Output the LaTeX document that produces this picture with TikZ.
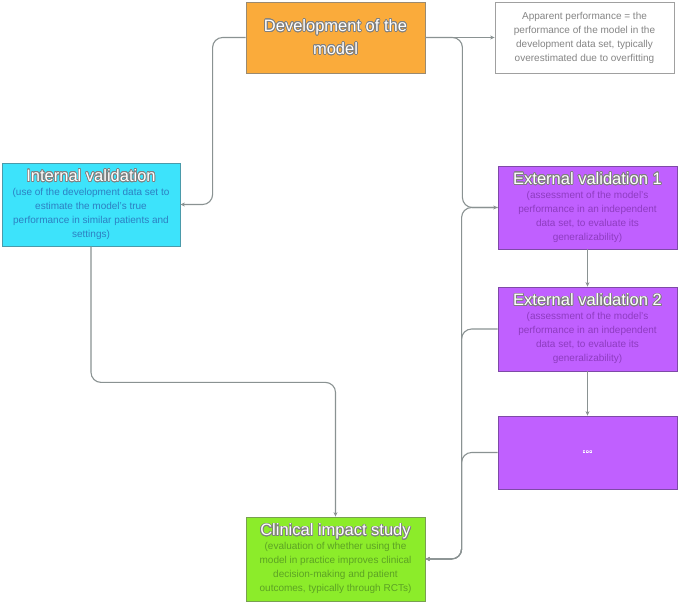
\documentclass[tikz,border=0pt]{standalone}
\usepackage{fontspec}
\setmainfont{Liberation Sans}
\usepackage[copies]{contour}
\usetikzlibrary{arrows.meta}
\definecolor{cOrange}{HTML}{FAAB3B}
\definecolor{bOrange}{HTML}{9A8A70}
\definecolor{cCyan}{HTML}{3DE3FB}
\definecolor{bCyan}{HTML}{4A9AAA}
\definecolor{tCyan}{HTML}{2D7FC2}
\definecolor{cPurple}{HTML}{C060FF}
\definecolor{bPurple}{HTML}{7E4AA6}
\definecolor{tPurple}{HTML}{8E3CC0}
\definecolor{cGreen}{HTML}{8CEC2A}
\definecolor{bGreen}{HTML}{78A050}
\definecolor{tGreen}{HTML}{5CA224}
\definecolor{lineC}{HTML}{8A9292}
\definecolor{ttlOutline}{HTML}{808080}
\definecolor{appText}{HTML}{858585}
\definecolor{appBorder}{HTML}{A0A0A0}
\contourlength{0.7pt}
\contournumber{20}
\newcommand{\ttl}[1]{\contour{ttlOutline}{#1}}
\newcommand{\ttlfont}{\fontsize{16.5}{20}\selectfont\color{white}}
\begin{document}
\begin{tikzpicture}[x=1pt,y=-1pt,
  box/.style={draw, line width=0.8pt, minimum width=179pt, align=center, inner sep=2pt,
    font=\fontsize{10}{14}\selectfont},
  conn/.style={draw=lineC, line width=1.1pt, rounded corners=10pt},
  arr/.style={-{Stealth[length=4.5pt,width=4pt]}}]
\useasboundingbox[fill=white] (0,0) rectangle (679,604);

\node[box, fill=cOrange, draw=bOrange, minimum height=71pt,
  font=\fontsize{16.5}{23}\selectfont] (dev) at (335.5,37.5)
  {\color{white}\ttl{Development of the}\\\color{white}\ttl{model}};

\node[box, fill=white, draw=appBorder, text=appText, minimum height=71pt] (app) at (584.5,37.5)
  {Apparent performance = the\\performance of the model in the\\development data set, typically\\overestimated due to overfitting};

\node[box, fill=cCyan, draw=bCyan, minimum width=178pt, minimum height=83pt] (int) at (91,204.5)
  {{\ttlfont\ttl{Internal validation}}\\\color{tCyan}(use of the development data set to\\\color{tCyan}estimate the model's true\\\color{tCyan}performance in similar patients and\\\color{tCyan}settings)};

\node[box, fill=cPurple, draw=bPurple, minimum height=83pt] (ext1) at (587.5,207.5)
  {{\ttlfont\ttl{External validation 1}}\\\color{tPurple}(assessment of the model's\\\color{tPurple}performance in an independent\\\color{tPurple}data set, to evaluate its\\\color{tPurple}generalizability)};

\node[box, fill=cPurple, draw=bPurple, minimum height=84pt] (ext2) at (587.5,329)
  {{\ttlfont\ttl{External validation 2}}\\\color{tPurple}(assessment of the model's\\\color{tPurple}performance in an independent\\\color{tPurple}data set, to evaluate its\\\color{tPurple}generalizability)};

\node[box, fill=cPurple, draw=bPurple, minimum height=73pt, font=\fontsize{12}{14}\selectfont] (dots) at (587.5,452.5)
  {\contourlength{0.35pt}\color{cPurple}\contour{white}{...}};

\node[box, fill=cGreen, draw=bGreen, minimum height=84pt] (clin) at (335.5,559)
  {{\ttlfont\ttl{Clinical impact study}}\\\color{tGreen}(evaluation of whether using the\\\color{tGreen}model in practice improves clinical\\\color{tGreen}decision-making and patient\\\color{tGreen}outcomes, typically through RCTs)};

\draw[conn,arr] (dev.east) -- (app.west);
\draw[conn,arr] (dev.west) -- ++(-33,0) |- (int.east);
\draw[conn,arr] (dev.east) -- ++(37,0) |- (ext1.west);
\draw[conn,arr] (ext1.south) -- (ext2.north);
\draw[conn,arr] (ext2.south) -- (dots.north);
\draw[conn,arr] (int.south) -- ++(0,136) -| (clin.north);
\draw[conn,arr] (ext1.west) -- ++(-36,0) |- (clin.east);
\draw[conn,arr] (ext2.west) -- ++(-36,0) |- (clin.east);
\draw[conn,arr] (dots.west) -- ++(-36,0) |- (clin.east);
\end{tikzpicture}
\end{document}
